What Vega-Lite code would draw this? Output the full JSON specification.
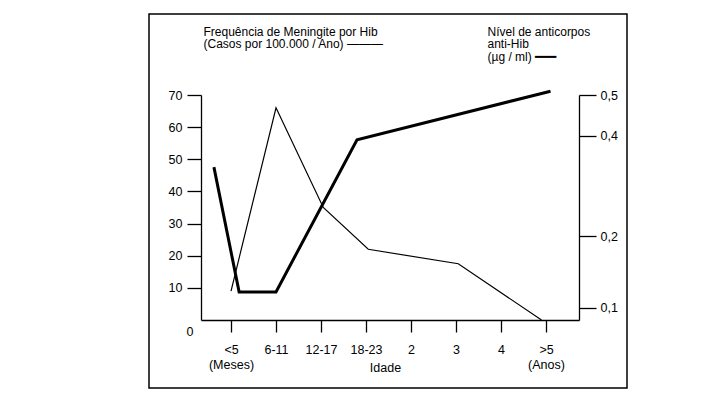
{
  "$schema": "https://vega.github.io/schema/vega-lite/v6.json",
  "width": 478,
  "height": 374,
  "autosize": {"type": "none"},
  "padding": {"left": 149, "top": 14, "right": 85, "bottom": 15},
  "background": "white",
  "config": {
    "view": {"stroke": "black", "strokeWidth": 1.5},
    "font": "Liberation Sans",
    "axis": {
      "grid": false,
      "domainColor": "black",
      "domainWidth": 1.3,
      "tickColor": "black",
      "tickWidth": 1.3,
      "labelColor": "black",
      "titleColor": "black",
      "labelFont": "Liberation Sans",
      "titleFont": "Liberation Sans",
      "labelFontSize": 12.5,
      "titleFontSize": 12,
      "titleFontWeight": "normal",
      "labelOverlap": false,
      "labelFlush": false
    }
  },
  "datasets": {
    "meningite": [
      {"idade": 0, "casos": 9},
      {"idade": 1, "casos": 66},
      {"idade": 2.05, "casos": 35},
      {"idade": 3.05, "casos": 22},
      {"idade": 5.05, "casos": 17.5},
      {"idade": 6.9, "casos": 0}
    ],
    "anticorpos": [
      {"idade": -0.38, "nivel": 0.33},
      {"idade": 0.18, "nivel": 0.119},
      {"idade": 1, "nivel": 0.119},
      {"idade": 2.8, "nivel": 0.39},
      {"idade": 7.1, "nivel": 0.51}
    ]
  },
  "encoding": {
    "x": {
      "field": "idade",
      "type": "quantitative",
      "scale": {"domain": [-0.667, 7.733], "range": [52, 430], "nice": false, "zero": false},
      "axis": {
        "orient": "bottom",
        "offset": -68,
        "values": [0, 1, 2, 3, 4, 5, 6, 7],
        "tickSize": 12,
        "labelPadding": 11,
        "labelLineHeight": 15,
        "labelExpr": "[['<5','(Meses)'],'6-11','12-17','18-23','2','3','4',['>5','(Anos)']][datum.value]",
        "title": "Idade",
        "titleFontSize": 12.5,
        "titleX": 236,
        "titleY": 47,
        "titleBaseline": "middle"
      }
    }
  },
  "layer": [
    {
      "data": {"name": "meningite"},
      "mark": {"type": "line", "color": "black", "strokeWidth": 1.2},
      "encoding": {
        "y": {
          "field": "casos",
          "type": "quantitative",
          "scale": {"domain": [0, 70], "range": [306, 81], "nice": false},
          "axis": {
            "orient": "left",
            "offset": -52,
            "values": [0, 10, 20, 30, 40, 50, 60, 70],
            "tickSize": 14,
            "labelPadding": {"condition": {"test": "datum.value == 0", "value": -6}, "value": 5},
            "labelOffset": {"condition": {"test": "datum.value == 0", "value": 11}, "value": 0},
            "tickOpacity": {"condition": {"test": "datum.value == 0", "value": 0}, "value": 1},
            "title": ["Frequência de Meningite por Hib", "(Casos por 100.000 / Ano) ———"],
            "titleAngle": 0,
            "titleAlign": "left",
            "titleBaseline": "top",
            "titleX": 2,
            "titleY": 12,
            "titleLineHeight": 12.5
          }
        }
      }
    },
    {
      "data": {"name": "anticorpos"},
      "mark": {"type": "line", "color": "black", "strokeWidth": 3},
      "encoding": {
        "y": {
          "field": "nivel",
          "type": "quantitative",
          "scale": {"type": "sqrt", "domain": [0.086, 0.5], "range": [306, 81], "nice": false, "zero": false},
          "axis": {
            "orient": "right",
            "offset": -48,
            "values": [0.1, 0.2, 0.4, 0.5],
            "tickSize": 17,
            "labelPadding": 4,
            "labelExpr": "replace(format(datum.value, '.1f'), '.', ',')",
            "title": ["Nível de anticorpos", "anti-Hib", "(µg / ml) ━━━"],
            "titleAngle": 0,
            "titleAlign": "left",
            "titleBaseline": "top",
            "titleX": -92,
            "titleY": 12,
            "titleLineHeight": 12.5
          }
        }
      }
    }
  ],
  "resolve": {"scale": {"y": "independent"}, "axis": {"y": "independent"}}
}
